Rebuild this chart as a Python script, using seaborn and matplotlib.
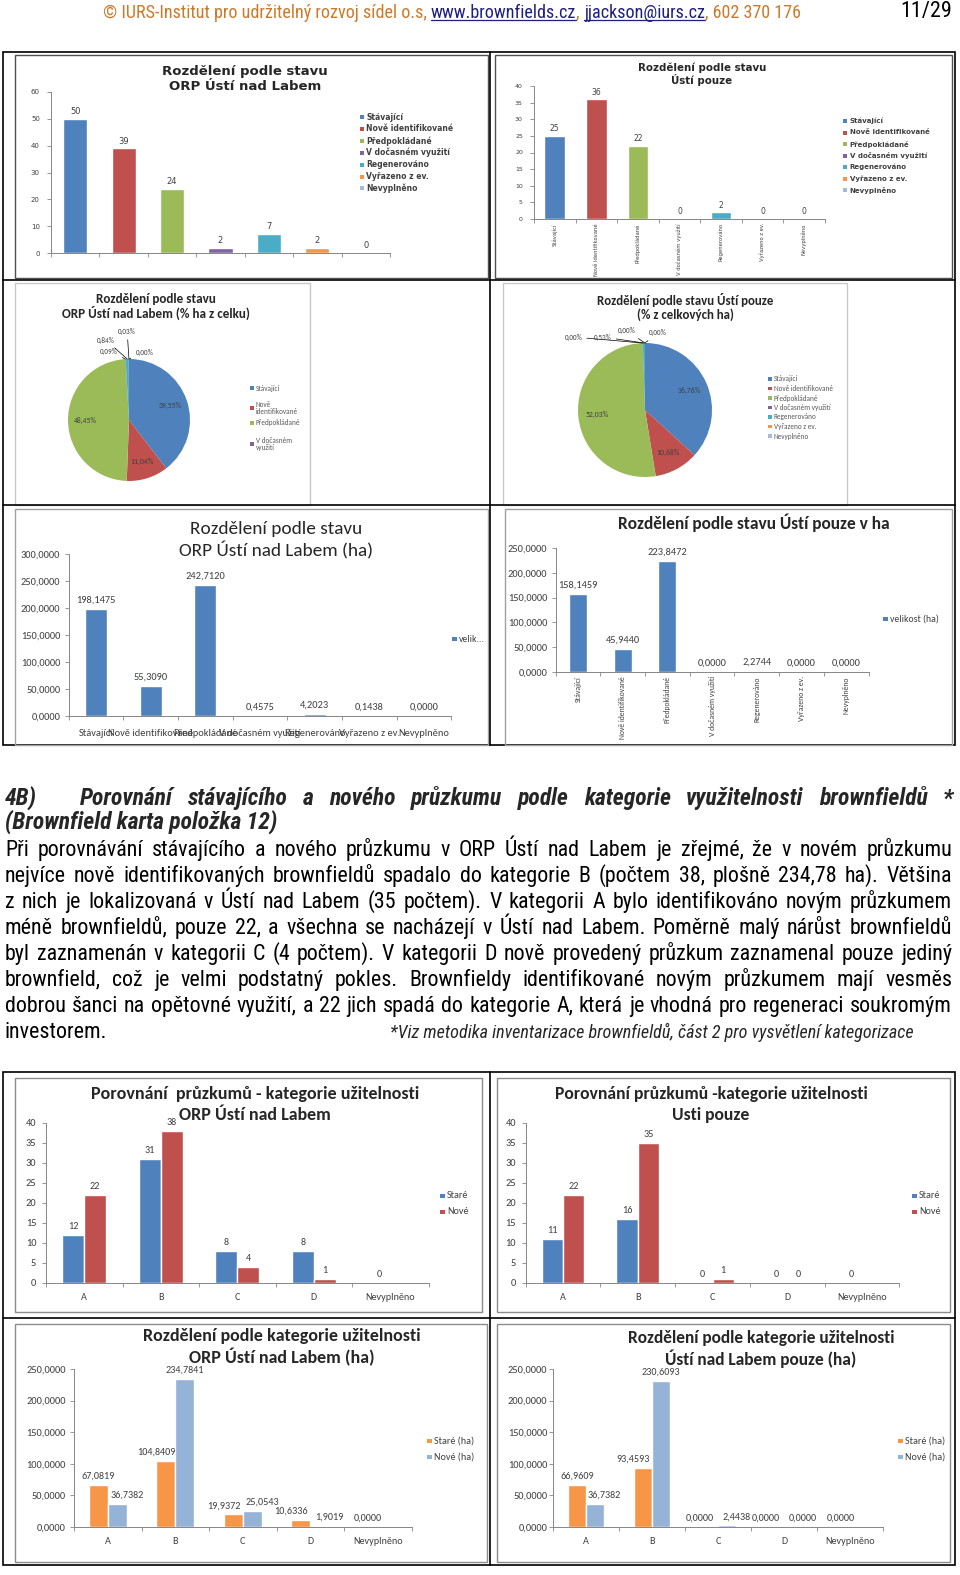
import unicodedata
import numpy as np
import pandas as pd
import matplotlib
matplotlib.use("Agg")
import matplotlib.pyplot as plt
from matplotlib import font_manager
from matplotlib.font_manager import FontProperties
from matplotlib.ft2font import FT2Font
from matplotlib.patches import Rectangle
import seaborn as sns

W, H = 960, 1575

# ---------------- data ----------------
STAV = ["Stávající", "Nově identifikované", "Předpokládané", "V dočasném využití",
        "Regenerováno", "Vyřazeno z ev.", "Nevyplněno"]
STAV_COLORS = ["#4F81BD", "#C0504D", "#9BBB59", "#8064A2", "#4BACC6", "#F79646", "#A5B9DA"]
PIE1_LEGEND = ["Stávající", "Nově\nidentifikované", "Předpokládané", "V dočasném\nvyužití"]

COUNT_ORP = [50, 39, 24, 2, 7, 2, 0]
COUNT_USTI = [25, 36, 22, 0, 2, 0, 0]
PCT_ORP = [39.55, 11.04, 48.45, 0.09, 0.84, 0.03, 0.00]
PCT_USTI = [36.76, 10.68, 52.03, 0.00, 0.53, 0.00, 0.00]
HA_ORP = [198.1475, 55.3090, 242.7120, 0.4575, 4.2023, 0.1438, 0.0000]
HA_USTI = [158.1459, 45.9440, 223.8472, 0.0000, 2.2744, 0.0000, 0.0000]

KAT = ["A", "B", "C", "D", "Nevyplněno"]
SERIE = ["Staré", "Nové"]
SERIE_HA = ["Staré (ha)", "Nové (ha)"]
STARE_ORP = [12, 31, 8, 8, 0]
NOVE_ORP = [22, 38, 4, 1, np.nan]
STARE_USTI = [11, 16, 0, 0, 0]
NOVE_USTI = [22, 35, 1, 0, np.nan]
STARE_HA_ORP = [67.0819, 104.8409, 19.9372, 10.6336, 0.0]
NOVE_HA_ORP = [36.7382, 234.7841, 25.0543, 1.9019, np.nan]
STARE_HA_USTI = [66.9609, 93.4593, 0.0, 0.0, 0.0]
NOVE_HA_USTI = [36.7382, 230.6093, 2.4438, 0.0, np.nan]

HEADER = [("© IURS-Institut pro udržitelný rozvoj sídel o.s, ", "o"), ("www.brownfields.cz", "l"),
          (", ", "o"), ("jjackson@iurs.cz", "l"), (", 602 370 176", "o")]
PAGE_NO = "11/29"
HEAD_NO = "4B)"
HEAD_1 = "Porovnání stávajícího a nového průzkumu podle kategorie využitelnosti brownfieldů *"
HEAD_2 = "(Brownfield karta položka 12)"
BODY = [
    "Při porovnávání stávajícího a nového průzkumu v ORP Ústí nad Labem je zřejmé, že v novém průzkumu",
    "nejvíce nově identifikovaných brownfieldů spadalo do kategorie B (počtem 38, plošně 234,78 ha). Většina",
    "z nich je lokalizovaná v Ústí nad Labem (35 počtem). V kategorii A bylo identifikováno novým průzkumem",
    "méně brownfieldů, pouze 22, a všechna se nacházejí v Ústí nad Labem. Poměrně malý nárůst brownfieldů",
    "byl zaznamenán v kategorii C (4 počtem). V kategorii D nově provedený průzkum zaznamenal pouze jediný",
    "brownfield, což je velmi podstatný pokles. Brownfieldy identifikované novým průzkumem mají vesměs",
    "dobrou šanci na opětovné využití, a 22 jich spadá do kategorie A, která je vhodná pro regeneraci soukromým",
]
BODY_LAST = "investorem."
FOOTNOTE = "*Viz metodika inventarizace brownfieldů, část 2 pro vysvětlení kategorizace"


def nfc(s):
    return unicodedata.normalize("NFC", s)


def pick(cands, texts, fallback, weight="normal", style="normal", need=None):
    chars = {c for s in texts for c in nfc(s) if not c.isspace()}
    for c in cands:
        try:
            path = font_manager.findfont(FontProperties(family=c, weight=weight, style=style),
                                         fallback_to_default=False)
        except ValueError:
            continue
        ft = FT2Font(path)
        if any(ft.get_char_index(ord(ch)) == 0 for ch in chars):
            continue
        if need and not need(path.lower()):
            continue
        return c
    return fallback


NARROWS = ["Liberation Sans Narrow", "Arial Narrow", "Roboto Condensed", "Archivo Narrow",
           "PT Sans Narrow", "IBM Plex Sans Condensed", "Fira Sans Condensed", "Asap Condensed"]
ALL_TEXT = BODY + [HEAD_1, HEAD_2, FOOTNOTE, BODY_LAST] + [s for s, _ in HEADER]
F_BODY = pick(NARROWS, ALL_TEXT, "Liberation Sans")
F_HEAD = pick(NARROWS, ALL_TEXT, "Liberation Sans", "bold", "italic",
              lambda p: "bold" in p and ("italic" in p or "oblique" in p))
F_NOTE = pick(NARROWS, ALL_TEXT, "Liberation Sans", "normal", "italic",
              lambda p: "italic" in p or "oblique" in p)
F_CAL = pick(["Carlito", "Calibri", "Lato"], STAV + KAT, "DejaVu Sans")
F_CALB = pick(["Carlito", "Calibri", "Lato"], STAV + KAT, "DejaVu Sans", "bold", "normal",
              lambda p: "bold" in p)
# Calibri-like faces run small per point; scale chart text when one is found
CS = 1.12 if F_CAL in ("Carlito", "Calibri") else 1.0

TEXTF = [F_BODY, "Liberation Sans", "DejaVu Sans"]
HEADF = [F_HEAD, "Liberation Sans", "DejaVu Sans"]
NOTEF = [F_NOTE, "Liberation Sans", "DejaVu Sans"]
CAL = [F_CAL, "Lato", "DejaVu Sans"]
CALB = [F_CALB, "Lato", "DejaVu Sans"]
VERD = ["DejaVu Sans"]
AX = "#868686"
GREY = "#404040"

sns.set_theme(style="white")
plt.rcParams["font.family"] = CAL

fig = plt.figure(figsize=(W / 100, H / 100), dpi=100)
fig.patch.set_facecolor("white")
page = fig.add_axes([0, 0, 1, 1], zorder=0)
page.set_xlim(0, W)
page.set_ylim(H, 0)
page.axis("off")
R = fig.canvas.get_renderer()


def cz(v, d):
    return f"{v:.{d}f}".replace(".", ",")


def width(t):
    return t.get_window_extent(R).width


def txt(x, y, s, **kw):
    kw.setdefault("va", "center")
    return page.text(x, y, nfc(s), **kw)


def fit(t, target):
    t.set_fontsize(t.get_fontsize() * target / width(t))
    return t


def str_width(s, **kw):
    t = txt(0, 0, s + "x", **kw)
    u = txt(0, 0, "x", **kw)
    w = width(t) - width(u)
    t.remove()
    u.remove()
    return w


def title(lines, xc, ys, target, **kw):
    ts = [txt(xc, y, s, ha="center", fontsize=10, **kw) for s, y in zip(lines, ys)]
    size = 10 * target / max(width(t) for t in ts)
    for t in ts:
        t.set_fontsize(size)


def legend(x, ys, labels, colors, size, sq=4.5, **kw):
    for y, lab, c in zip(ys, labels, colors):
        page.add_patch(Rectangle((x, y - sq / 2), sq, sq, color=c, lw=0))
        txt(x + sq + 2.5, y, lab, fontsize=size, linespacing=1.0, **kw)


def frame(x0, y0, x1, y1, color, lw=1.0):
    page.add_patch(Rectangle((x0, y0), x1 - x0, y1 - y0, fill=False, ec=color, lw=lw))


def axes_px(x0, y0, x1, y1):
    ax = fig.add_axes([x0 / W, 1 - y1 / H, (x1 - x0) / W, (y1 - y0) / H], zorder=2)
    ax.set_facecolor("none")
    return ax


def style(ax, n, top, step, yfmt, ysize, family, xlabels=None, xsize=6.5, rot=0, xpad=3, ypad=3):
    ax.set_xlim(-0.5, n - 0.5)
    ax.set_ylim(0, top)
    ticks = np.arange(0, top + step / 2, step)
    ax.set_yticks(ticks, [yfmt(v) for v in ticks])
    if xlabels is None:
        ax.set_xticks(range(n), [""] * n)
    else:
        ax.set_xticks(range(n), [nfc(s) for s in xlabels], rotation=rot)
    ax.set_xticks(np.arange(-0.5, n, 1), minor=True)
    ax.tick_params(axis="x", which="major", length=0, pad=xpad, labelsize=xsize, labelcolor=GREY)
    ax.tick_params(axis="x", which="minor", length=3, bottom=True, color=AX, width=0.6)
    ax.tick_params(axis="y", length=3, left=True, color=AX, width=0.6, labelsize=ysize,
                   labelcolor=GREY, pad=ypad)
    for lab in ax.get_xticklabels() + ax.get_yticklabels():
        lab.set_family(family)
    for s in ("top", "right"):
        ax.spines[s].set_visible(False)
    for s in ("left", "bottom"):
        ax.spines[s].set_color(AX)
        ax.spines[s].set_linewidth(0.7)
    ax.set_xlabel("")
    ax.set_ylabel("")


def label_bars(ax, d, size, family, pad=2):
    out = []
    for cont in ax.containers:
        labs = [cz(b.get_height(), d) if np.isfinite(b.get_height()) else "" for b in cont]
        out.append(ax.bar_label(cont, labels=labs, padding=pad, fontsize=size, color=GREY,
                                family=family))
    return out


def status_bars(box, vals, top, step, width_, fam, ysize, lsize, xlabels=None, xsize=4.5):
    ax = axes_px(*box)
    sns.barplot(x=STAV, y=vals, hue=STAV, palette=STAV_COLORS, width=width_, saturation=1,
                legend=False, ax=ax)
    style(ax, len(STAV), top, step, lambda v: f"{v:.0f}", ysize, fam, xlabels, xsize, rot=90, ypad=5)
    label_bars(ax, 0, lsize, fam)
    return ax


def ha_bars(box, vals, top, xlabels, rot, xsize, xpad):
    ax = axes_px(*box)
    sns.barplot(x=STAV, y=vals, color=STAV_COLORS[0], width=0.4, saturation=1, ax=ax)
    style(ax, len(STAV), top, 50, lambda v: cz(v, 4), 6.7 * CS, CAL, xlabels, xsize, rot=rot, xpad=xpad)
    label_bars(ax, 4, 6.7 * CS, CAL, pad=3)
    return ax


def grouped_bars(box, s1, s2, names, colors, top, step, width_, d, yfmt, ypad, spread=0.0):
    ax = axes_px(*box)
    df = pd.DataFrame({"kat": KAT * 2, "hodnota": list(s1) + list(s2),
                       "serie": [names[0]] * len(KAT) + [names[1]] * len(KAT)})
    sns.barplot(data=df, x="kat", y="hodnota", hue="serie", palette=colors, width=width_,
                saturation=1, legend=False, ax=ax)
    style(ax, len(KAT), top, step, yfmt, 6.7 * CS, CAL, KAT, 6.5 * CS, xpad=7, ypad=ypad)
    groups = label_bars(ax, d, 6.5 * CS, CAL, pad=3)
    if spread:
        # nudge crowded labels outward, as the labels were dragged in the original
        for k, anns in enumerate(groups):
            sign = -1 if k == 0 else 1
            for i, ann in enumerate(anns):
                a, b = s1[i], s2[i]
                if not (np.isfinite(a) and np.isfinite(b)):
                    continue
                me, other = (a, b) if k == 0 else (b, a)
                if me - other > 0.1 * top:
                    continue
                ann.xyann = (sign * spread, ann.xyann[1])
    return ax


def pie(center, r, pct, small_pos):
    cx, cy = center
    ax = axes_px(cx - 1.5 * r, cy - 1.5 * r, cx + 1.5 * r, cy + 1.5 * r)
    wedges, _ = ax.pie(pct, colors=STAV_COLORS, startangle=90, counterclock=False,
                       wedgeprops=dict(linewidth=0))
    ax.set_xlim(-1.5, 1.5)
    ax.set_ylim(-1.5, 1.5)
    ax.set_aspect("equal")
    for i, (w, p) in enumerate(zip(wedges, pct)):
        a = np.deg2rad((w.theta1 + w.theta2) / 2)
        lab = cz(p, 2) + "%"
        if i < 3:
            ax.text(0.72 * np.cos(a), 0.72 * np.sin(a), lab, ha="center", va="center",
                    fontsize=5 * CS, color=GREY)
        else:
            ax.annotate(lab, xy=(np.cos(a), np.sin(a)), xytext=small_pos[i - 3], ha="center",
                        va="center", fontsize=4.7 * CS, color=GREY,
                        arrowprops=dict(arrowstyle="-", lw=0.5, color="black", shrinkA=1, shrinkB=0))
    return ax


# ---------------- header ----------------
HCOL = {"o": "#CC7A2A", "l": "#1F1F80"}
full = "".join(s for s, _ in HEADER)
t = txt(103, 11, full, fontsize=14, family=TEXTF)
hsize = t.get_fontsize() * 702 / width(t)
t.remove()
x = 103
base = 11 + hsize * 100 / 72 * 0.36
for s, k in HEADER:
    tt = txt(x, base, s, fontsize=hsize, family=TEXTF, color=HCOL[k], va="baseline")
    w = str_width(s, fontsize=hsize, family=TEXTF)
    if k == "l":
        page.plot([x, x + width(tt)], [base + 2, base + 2], color=HCOL[k], lw=0.9)
    x += w
fit(txt(900, 11, PAGE_NO, fontsize=14, family=TEXTF, color="black"), 52)

# ---------------- tables & chart frames ----------------
frame(3, 52, 955, 745, "black", 1.2)
page.plot([490, 490], [52, 745], color="black", lw=1.2)
page.plot([3, 955], [280, 280], color="black", lw=1.2)
page.plot([3, 955], [505, 505], color="black", lw=1.2)
frame(15, 55, 488, 278, "#505050")
frame(495, 55, 952, 278, "#505050")
frame(15, 283, 310, 505, "#c8c8c8")
frame(503, 283, 847, 505, "#c8c8c8")
frame(15, 509, 488, 745, "#a0a0a0")
frame(505, 509, 952, 745, "#a0a0a0")

frame(3, 1072, 955, 1565, "black", 1.2)
page.plot([490, 490], [1072, 1565], color="black", lw=1.2)
page.plot([3, 955], [1318, 1318], color="black", lw=1.2)
frame(15, 1078, 482, 1312, "#8c8c8c")
frame(497, 1078, 950, 1312, "#8c8c8c")
frame(15, 1324, 487, 1562, "#8c8c8c")
frame(497, 1324, 950, 1562, "#8c8c8c")

# ---------------- row 1: counts by status ----------------
status_bars((51, 92, 390, 253), COUNT_ORP, 60, 10, 0.5, VERD, 5, 6)
title(["Rozdělení podle stavu", "ORP Ústí nad Labem"], 245, [71, 86], 165, family=VERD, weight="bold")
legend(360, [117 + 11.9 * i for i in range(7)], STAV, STAV_COLORS, 5.5, sq=4, family=VERD,
       weight="bold", color=GREY)

status_bars((534, 86, 825, 219), COUNT_USTI, 40, 5, 0.5, VERD, 4.5, 5.5, STAV, 3.8)
title(["Rozdělení podle stavu", "Ústí pouze"], 702, [68, 80], 128, family=VERD, weight="bold")
legend(843, [121 + 11.5 * i for i in range(7)], STAV, STAV_COLORS, 5, sq=4, family=VERD,
       weight="bold", color=GREY)

# ---------------- row 2: pies ----------------
pie((129, 420), 61, PCT_ORP, [(-0.33, 1.13), (-0.38, 1.31), (-0.03, 1.45), (0.25, 1.10)])
title(["Rozdělení podle stavu", "ORP Ústí nad Labem (% ha z celku)"], 156, [299, 313], 187,
      family=CALB, weight="bold")
legend(250, [388, 408, 423, 444], PIE1_LEGEND, STAV_COLORS, 4.7 * CS, sq=3.5, family=CAL,
       color="#595959")

pie((645, 410), 67, PCT_USTI, [(-1.07, 1.09), (-0.63, 1.09), (-0.27, 1.18), (0.19, 1.15)])
title(["Rozdělení podle stavu Ústí pouze", "(% z celkových ha)"], 685, [300, 315], 177,
      family=CALB, weight="bold")
legend(768, [379 + 9.5 * i for i in range(7)], STAV, STAV_COLORS, 4.7 * CS, sq=3.5, family=CAL,
       color="#595959")

# ---------------- row 3: hectares by status ----------------
ha_bars((68.6, 554, 451.5, 716), HA_ORP, 300, STAV, 0, 6.7 * CS, 9)
title(["Rozdělení podle stavu", "ORP Ústí nad Labem (ha)"], 276, [529, 550], 195, family=CAL)
legend(452, [639], ["velik..."], STAV_COLORS[:1], 6.3 * CS, sq=4.5, family=CAL, color=GREY)

ha_bars((555.6, 548, 868.6, 672), HA_USTI, 250, STAV, 90, 5 * CS, 3)
title(["Rozdělení podle stavu Ústí pouze v ha"], 754, [523], 272, family=CALB, weight="bold")
legend(883, [619], ["velikost (ha)"], STAV_COLORS[:1], 6.3 * CS, sq=4.5, family=CAL, color=GREY)

# ---------------- text ----------------
hsz = fit(txt(5, 822, HEAD_2, fontsize=14, family=HEADF, weight="bold", style="italic"), 273).get_fontsize()
hbase = 797 + hsz * 100 / 72 * 0.36
txt(5, hbase, HEAD_NO, fontsize=hsz, family=HEADF, weight="bold", style="italic", va="baseline")


def justify(line, y, x0, x1, **kw):
    ts = [txt(0, y, w, va="baseline", **kw) for w in line.split()]
    ws = [width(t) for t in ts]
    gap = (x1 - x0 - sum(ws)) / (len(ts) - 1)
    xx = x0
    for t, w in zip(ts, ws):
        t.set_x(xx)
        xx += w + gap


justify(HEAD_1, hbase, 80, 953, fontsize=hsz, family=HEADF, weight="bold", style="italic")

probe = [txt(0, -100, s, fontsize=14, family=TEXTF) for s in BODY]
bsz = 14 * 940 / max(width(p) for p in probe)
for p in probe:
    p.remove()
boff = bsz * 100 / 72 * 0.36
for i, line in enumerate(BODY):
    justify(line, 848 + 26 * i + boff, 5, 952, fontsize=bsz, family=TEXTF, color="black")
txt(5, 1030 + boff, BODY_LAST, fontsize=bsz, family=TEXTF, color="black", va="baseline")
fit(txt(390, 1032, FOOTNOTE, fontsize=11, family=NOTEF, style="italic"), 524)

# ---------------- bottom: categories of usability ----------------
grouped_bars((46, 1123, 428.5, 1283), STARE_ORP, NOVE_ORP, SERIE, STAV_COLORS[:2], 40, 5, 0.57, 0,
             lambda v: f"{v:.0f}", 4)
title(["Porovnání  průzkumů - kategorie užitelnosti", "ORP Ústí nad Labem"], 255, [1094, 1115], 327,
      family=CALB, weight="bold")
legend(440, [1196, 1212], SERIE, STAV_COLORS[:2], 6.5 * CS, family=CAL, color=GREY)

grouped_bars((525.6, 1123, 899.4, 1283), STARE_USTI, NOVE_USTI, SERIE, STAV_COLORS[:2], 40, 5, 0.57, 0,
             lambda v: f"{v:.0f}", 4)
title(["Porovnání průzkumů -kategorie užitelnosti", "Usti pouze"], 711, [1094, 1115], 312,
      family=CALB, weight="bold")
legend(912, [1196, 1212], SERIE, STAV_COLORS[:2], 6.5 * CS, family=CAL, color=GREY)

HA_COLORS = [STAV_COLORS[5], "#95B3D7"]
grouped_bars((74, 1369, 411.5, 1527), STARE_HA_ORP, NOVE_HA_ORP, SERIE_HA, HA_COLORS, 250, 50, 0.56, 4,
             lambda v: cz(v, 4), 3, spread=7)
title(["Rozdělení podle kategorie užitelnosti", "ORP Ústí nad Labem (ha)"], 282, [1336, 1357], 277,
      family=CALB, weight="bold")
legend(427, [1441, 1457], SERIE_HA, HA_COLORS, 6.5 * CS, family=CAL, color=GREY)

grouped_bars((553, 1369, 883, 1527), STARE_HA_USTI, NOVE_HA_USTI, SERIE_HA, HA_COLORS, 250, 50, 0.54, 4,
             lambda v: cz(v, 4), 1, spread=7)
title(["Rozdělení podle kategorie užitelnosti", "Ústí nad Labem pouze (ha)"], 761, [1338, 1359], 268,
      family=CALB, weight="bold")
legend(898, [1441, 1457], SERIE_HA, HA_COLORS, 6.5 * CS, family=CAL, color=GREY)

fig.savefig("out.png", dpi=100, facecolor="white")
